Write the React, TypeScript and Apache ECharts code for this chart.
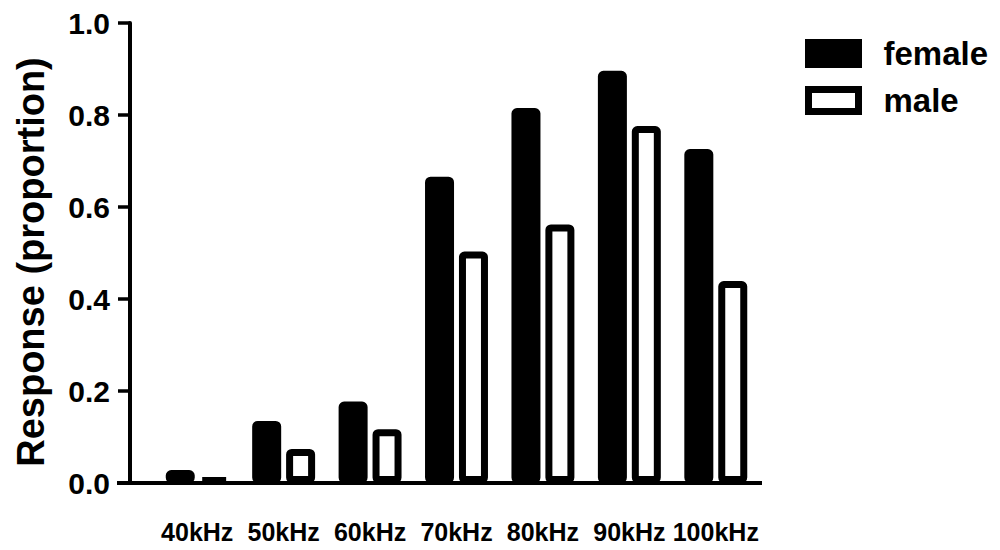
import React, { useEffect, useRef } from "react";
import * as echarts from "echarts";

const categories = ["40kHz", "50kHz", "60kHz", "70kHz", "80kHz", "90kHz", "100kHz"];
const female = [0.028, 0.135, 0.177, 0.666, 0.815, 0.896, 0.726];
const male = [0.011, 0.074, 0.117, 0.503, 0.562, 0.776, 0.439];
const yMin = 0;
const yMax = 1;
const yInterval = 0.2;

const FONT = "'Liberation Sans', Arial, sans-serif";
const GRID_LEFT = 154;
const GRID_RIGHT_X = 759;
const GRID_TOP = 23;
const AXIS_Y = 483;

export default function App() {
  const ref = useRef<HTMLDivElement>(null);
  useEffect(() => {
    if (!ref.current) return;
    document.body.style.margin = "0";
    const chart = echarts.init(ref.current, undefined, { renderer: "svg" });
    chart.setOption({
      animation: false,
      backgroundColor: "#ffffff",
      grid: {
        left: GRID_LEFT,
        right: 1000 - GRID_RIGHT_X,
        top: GRID_TOP,
        bottom: 550 - AXIS_Y,
        containLabel: false,
      },
      legend: {
        orient: "vertical",
        left: 805,
        top: 37,
        itemWidth: 50,
        itemHeight: 22,
        itemGap: 14,
        icon: "rect",
        padding: 0,
        itemStyle: { borderWidth: 7, borderColor: "#000" },
        textStyle: {
          fontFamily: FONT,
          fontSize: 33,
          fontWeight: "bold",
          color: "#000",
          padding: [0, 0, 0, 20],
        },
        data: ["female", "male"],
      },
      xAxis: {
        type: "category",
        data: categories,
        axisLine: { show: true, lineStyle: { color: "#000", width: 4 } },
        axisTick: { show: false },
        axisLabel: {
          margin: 36,
          fontFamily: FONT,
          fontSize: 25,
          fontWeight: "bold",
          color: "#000",
          interval: 0,
        },
      },
      yAxis: {
        type: "value",
        min: yMin,
        max: yMax,
        interval: yInterval,
        offset: GRID_LEFT - 130,
        name: "Response (proportion)",
        nameLocation: "middle",
        nameGap: 80,
        nameTextStyle: {
          fontFamily: FONT,
          fontSize: 38,
          fontWeight: "bold",
          color: "#000",
          padding: [0, 18, 0, 0],
        },
        axisLine: { show: true, lineStyle: { color: "#000", width: 4 } },
        axisTick: { show: true, length: 12, lineStyle: { color: "#000", width: 3.5 } },
        splitLine: { show: false },
        axisLabel: {
          margin: 20,
          fontFamily: FONT,
          fontSize: 30,
          fontWeight: "bold",
          color: "#000",
          formatter: (v: number) => v.toFixed(1),
        },
      },
      graphic: [
        {
          type: "line",
          shape: { x1: 117, y1: AXIS_Y, x2: GRID_LEFT, y2: AXIS_Y },
          style: { stroke: "#000", lineWidth: 4 },
          z: 10,
        },
        {
          type: "line",
          shape: { x1: GRID_RIGHT_X - 2, y1: AXIS_Y, x2: 762, y2: AXIS_Y },
          style: { stroke: "#000", lineWidth: 4 },
          z: 10,
        },
      ],
      series: [
        {
          name: "female",
          type: "bar",
          data: female,
          barWidth: 29,
          barGap: "17%",
          itemStyle: { color: "#000", borderColor: "#000", borderWidth: 7, borderRadius: 2 },
        },
        {
          name: "male",
          type: "bar",
          data: male,
          barWidth: 29,
          barGap: "17%",
          itemStyle: { color: "#fff", borderColor: "#000", borderWidth: 7, borderRadius: 2 },
        },
      ],
    });
    return () => chart.dispose();
  }, []);
  return <div ref={ref} style={{ width: 1000, height: 550 }} />;
}
